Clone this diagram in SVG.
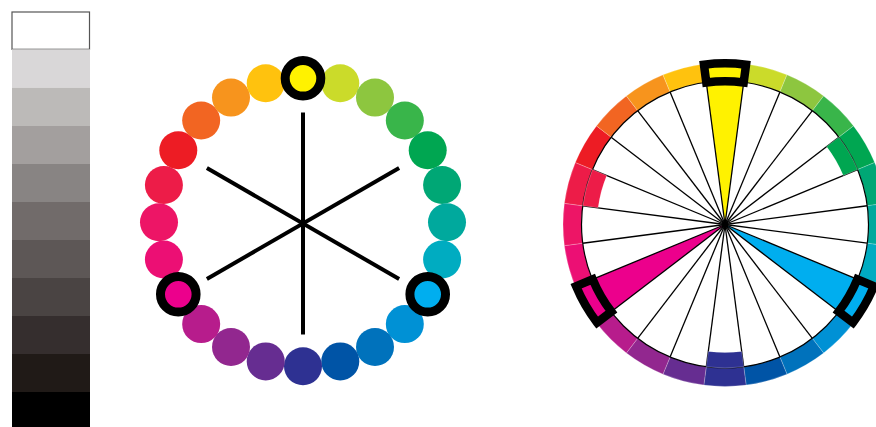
<svg xmlns="http://www.w3.org/2000/svg" xmlns:xlink="http://www.w3.org/1999/xlink" width="876" height="427" viewBox="0 0 876 427">
<style>
.spoke{stroke:#000;stroke-width:1.3}
.seg{stroke:#fff;stroke-opacity:0.35;stroke-width:0.6}
.box{fill:none;stroke:#000;stroke-width:8.5;stroke-linejoin:miter}
.dot{stroke:none}
.hl{stroke:#000;stroke-width:9}
.axis{stroke:#000;stroke-width:4}
</style>
<defs>
<path id="seg" d="M -21.146,-160.613 A 162 162 0 0 1 21.146,-160.613 L 18.731,-142.272 A 143.5 143.5 0 0 0 -18.731,-142.272 Z"/>
<path id="ext" d="M -18.731,-142.272 A 143.5 143.5 0 0 1 18.731,-142.272 L 16.708,-126.904 A 128 128 0 0 0 -16.708,-126.904 Z"/>
<path id="wedge" d="M 0,0 L -18.731,-142.272 A 143.5 143.5 0 0 1 18.731,-142.272 Z"/>
<path id="boxp" d="M -21.042,-159.820 A 161.2 161.2 0 0 1 21.042,-159.820 L 18.692,-141.975 A 143.2 143.2 0 0 0 -18.692,-141.975 Z"/>
<line id="sp" x1="0" y1="0" x2="-18.731" y2="-142.272"/>
</defs>
<rect width="876" height="427" fill="#fff"/>

<g id="grayscale">
<rect x="12" y="12" width="77.5" height="37.3" fill="#fff" stroke="#555" stroke-width="1.2"/>
<rect x="12" y="49.3" width="78" height="38.4" fill="#d9d7d8"/>
<rect x="12" y="87.7" width="78" height="38.3" fill="#bcbab8"/>
<rect x="12" y="126" width="78" height="38" fill="#a39f9e"/>
<rect x="12" y="164" width="78" height="38" fill="#888483"/>
<rect x="12" y="202" width="78" height="38" fill="#716b6a"/>
<rect x="12" y="240" width="78" height="38" fill="#5d5756"/>
<rect x="12" y="278" width="78" height="38" fill="#4a4443"/>
<rect x="12" y="316" width="78" height="38" fill="#352e2e"/>
<rect x="12" y="354" width="78" height="38" fill="#201a17"/>
<rect x="12" y="392" width="78" height="35" fill="#000"/>
</g>

<g id="connectors">
<line class="axis" x1="303" y1="112.5" x2="303" y2="334.5"/>
<line class="axis" x1="206.87" y1="168" x2="399.13" y2="279"/>
<line class="axis" x1="206.87" y1="279" x2="399.13" y2="168"/>
</g>

<g id="wheel-dots">
<g id="dot1"><circle class="dot" cx="340.27" cy="83.21" r="19" fill="#cbdb2a"/></g>
<g id="dot2"><circle class="dot" cx="375" cy="97.59" r="19" fill="#8dc63f"/></g>
<g id="dot3"><circle class="dot" cx="404.82" cy="120.48" r="19" fill="#39b54a"/></g>
<g id="dot4"><circle class="dot" cx="427.71" cy="150.3" r="19" fill="#00a651"/></g>
<g id="dot5"><circle class="dot" cx="442.09" cy="185.03" r="19" fill="#00a775"/></g>
<g id="dot6"><circle class="dot" cx="447" cy="222.3" r="19" fill="#00a99d"/></g>
<g id="dot7"><circle class="dot" cx="442.09" cy="259.57" r="19" fill="#00acc1"/></g>
<g id="dot9"><circle class="dot" cx="404.82" cy="324.12" r="19" fill="#0091d5"/></g>
<g id="dot10"><circle class="dot" cx="375" cy="347.01" r="19" fill="#0072bc"/></g>
<g id="dot11"><circle class="dot" cx="340.27" cy="361.39" r="19" fill="#0054a6"/></g>
<g id="dot12"><circle class="dot" cx="303" cy="366.3" r="19" fill="#2e3192"/></g>
<g id="dot13"><circle class="dot" cx="265.73" cy="361.39" r="19" fill="#662d91"/></g>
<g id="dot14"><circle class="dot" cx="231" cy="347.01" r="19" fill="#92278f"/></g>
<g id="dot15"><circle class="dot" cx="201.18" cy="324.12" r="19" fill="#b71c8c"/></g>
<g id="dot17"><circle class="dot" cx="163.91" cy="259.57" r="19" fill="#ec0f74"/></g>
<g id="dot18"><circle class="dot" cx="159" cy="222.3" r="19" fill="#ed1566"/></g>
<g id="dot19"><circle class="dot" cx="163.91" cy="185.03" r="19" fill="#ed1c48"/></g>
<g id="dot20"><circle class="dot" cx="178.29" cy="150.3" r="19" fill="#ed1c24"/></g>
<g id="dot21"><circle class="dot" cx="201.18" cy="120.48" r="19" fill="#f26522"/></g>
<g id="dot22"><circle class="dot" cx="231" cy="97.59" r="19" fill="#f7941d"/></g>
<g id="dot23"><circle class="dot" cx="265.73" cy="83.21" r="19" fill="#ffc20e"/></g>
<g id="dot0"><circle class="hl" cx="303" cy="78.3" r="17.8" fill="#fff200"/></g>
<g id="dot8"><circle class="hl" cx="427.71" cy="294.3" r="17.8" fill="#00aeef"/></g>
<g id="dot16"><circle class="hl" cx="178.29" cy="294.3" r="17.8" fill="#ec008c"/></g>
</g>

<g id="ring-wheel" transform="translate(725,224.5)">
<circle r="143.5" fill="#fff"/>
<g id="wedges">
<use xlink:href="#wedge" fill="#fff200"/>
<use xlink:href="#wedge" transform="rotate(120)" fill="#00aeef"/>
<use xlink:href="#wedge" transform="rotate(240)" fill="#ec008c"/>
</g>
<g id="spokes" class="spoke">
<use xlink:href="#sp"/>
<use xlink:href="#sp" transform="rotate(15)"/>
<use xlink:href="#sp" transform="rotate(30)"/>
<use xlink:href="#sp" transform="rotate(45)"/>
<use xlink:href="#sp" transform="rotate(60)"/>
<use xlink:href="#sp" transform="rotate(75)"/>
<use xlink:href="#sp" transform="rotate(90)"/>
<use xlink:href="#sp" transform="rotate(105)"/>
<use xlink:href="#sp" transform="rotate(120)"/>
<use xlink:href="#sp" transform="rotate(135)"/>
<use xlink:href="#sp" transform="rotate(150)"/>
<use xlink:href="#sp" transform="rotate(165)"/>
<use xlink:href="#sp" transform="rotate(180)"/>
<use xlink:href="#sp" transform="rotate(195)"/>
<use xlink:href="#sp" transform="rotate(210)"/>
<use xlink:href="#sp" transform="rotate(225)"/>
<use xlink:href="#sp" transform="rotate(240)"/>
<use xlink:href="#sp" transform="rotate(255)"/>
<use xlink:href="#sp" transform="rotate(270)"/>
<use xlink:href="#sp" transform="rotate(285)"/>
<use xlink:href="#sp" transform="rotate(300)"/>
<use xlink:href="#sp" transform="rotate(315)"/>
<use xlink:href="#sp" transform="rotate(330)"/>
<use xlink:href="#sp" transform="rotate(345)"/>
</g>
<g id="ring" class="seg">
<use xlink:href="#seg" fill="#fff200"/>
<use xlink:href="#seg" transform="rotate(15)" fill="#cbdb2a"/>
<use xlink:href="#seg" transform="rotate(30)" fill="#8dc63f"/>
<use xlink:href="#seg" transform="rotate(45)" fill="#39b54a"/>
<use xlink:href="#seg" transform="rotate(60)" fill="#00a651"/>
<use xlink:href="#seg" transform="rotate(75)" fill="#00a775"/>
<use xlink:href="#seg" transform="rotate(90)" fill="#00a99d"/>
<use xlink:href="#seg" transform="rotate(105)" fill="#00acc1"/>
<use xlink:href="#seg" transform="rotate(120)" fill="#00aeef"/>
<use xlink:href="#seg" transform="rotate(135)" fill="#0091d5"/>
<use xlink:href="#seg" transform="rotate(150)" fill="#0072bc"/>
<use xlink:href="#seg" transform="rotate(165)" fill="#0054a6"/>
<use xlink:href="#seg" transform="rotate(180)" fill="#2e3192"/>
<use xlink:href="#seg" transform="rotate(195)" fill="#662d91"/>
<use xlink:href="#seg" transform="rotate(210)" fill="#92278f"/>
<use xlink:href="#seg" transform="rotate(225)" fill="#b71c8c"/>
<use xlink:href="#seg" transform="rotate(240)" fill="#ec008c"/>
<use xlink:href="#seg" transform="rotate(255)" fill="#ec0f74"/>
<use xlink:href="#seg" transform="rotate(270)" fill="#ed1566"/>
<use xlink:href="#seg" transform="rotate(285)" fill="#ed1c48"/>
<use xlink:href="#seg" transform="rotate(300)" fill="#ed1c24"/>
<use xlink:href="#seg" transform="rotate(315)" fill="#f26522"/>
<use xlink:href="#seg" transform="rotate(330)" fill="#f7941d"/>
<use xlink:href="#seg" transform="rotate(345)" fill="#ffc20e"/>
</g>
<circle r="143.5" fill="none" stroke="#000" stroke-width="1.2"/>
<g id="extensions" class="seg">
<use xlink:href="#ext" transform="rotate(60)" fill="#00a651"/>
<use xlink:href="#ext" transform="rotate(180)" fill="#2e3192"/>
<use xlink:href="#ext" transform="rotate(285)" fill="#ed1c48"/>
</g>
<g id="boxes" class="box">
<use xlink:href="#boxp"/>
<use xlink:href="#boxp" transform="rotate(120)"/>
<use xlink:href="#boxp" transform="rotate(240)"/>
</g>
</g>
</svg>
